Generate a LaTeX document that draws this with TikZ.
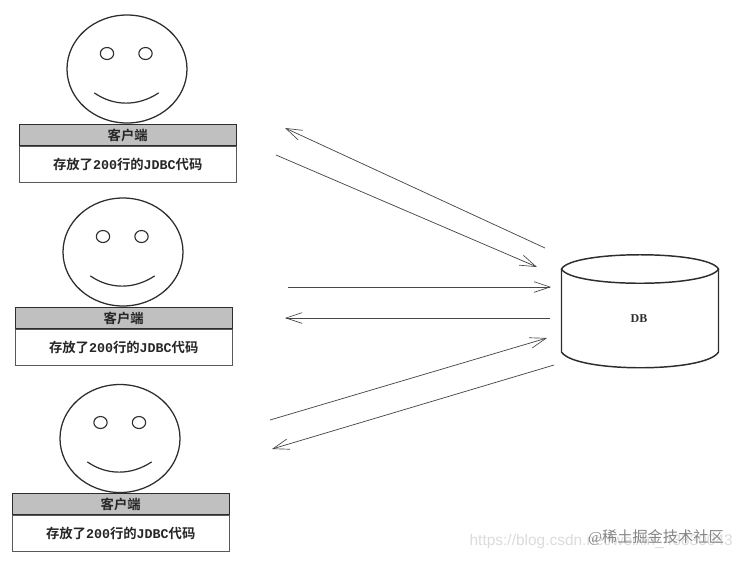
\documentclass[tikz,border=0pt]{standalone}
\usepackage{fontspec}
\setmainfont{Liberation Serif}
\setmonofont{Liberation Mono}
\setsansfont{Liberation Sans}
\newfontfamily\cjk{Noto Sans CJK SC}[BoldFont={* Bold}]
\usetikzlibrary{arrows.meta,shapes.geometric}
\definecolor{hdr}{RGB}{192,192,192}
\definecolor{ink}{RGB}{45,45,45}
\tikzset{
  x=0.75pt,y=-0.75pt,
  face/.style={ellipse,draw=ink,line width=0.95pt,minimum width=90pt,minimum height=81pt,inner sep=0pt,fill=white},
  eye/.style={ellipse,draw=ink,line width=0.85pt,minimum width=10pt,minimum height=9pt,inner sep=0pt},
  smile/.style={draw=ink,line width=0.9pt,line cap=round},
  hdrbox/.style={draw=ink,fill=hdr,line width=0.8pt,minimum width=163pt,minimum height=16.3pt,inner sep=0pt,text=black!85,font=\cjk\bfseries\fontsize{10}{11}\selectfont},
  bodybox/.style={draw=black!65,fill=white,line width=0.8pt,minimum width=163pt,minimum height=26.7pt,inner sep=0pt,text=black!85,font=\ttfamily\bfseries\fontsize{10}{11}\selectfont},
  link/.style={draw=black!72,line width=0.55pt,-{Straight Barb[length=12pt,width=8pt,line width=0.5pt]}},
  dbtext/.style={font=\bfseries\fontsize{9}{10}\selectfont,text=ink},
  wm/.style={text=black!48,font=\fontsize{11.4}{12}\selectfont,inner sep=0pt,anchor=east},
  wmb/.style={text=black!14,font=\sffamily\fontsize{11.6}{12}\selectfont,inner sep=0pt,anchor=east}
}
\newcommand{\rowtext}{{\cjk 存放了}200{\cjk 行的}JDBC{\cjk 代码}}
\begin{document}
\begin{tikzpicture}
\useasboundingbox (0,0) rectangle (741,562);
% first client
\node[face] (f1) at (127,69) {};
\node[eye] (e1a) at (107,53.5) {};
\node[eye] (e1b) at (145.5,53.5) {};
\draw[smile] (94.5,93) .. controls (114,106.5) and (138,106.5) .. (158.5,93);
\node[hdrbox] (h1) at (127.7,135) {\cjk 客户端};
\node[bodybox,anchor=north] (b1) at (h1.south) {\rowtext};
% second client
\node[face] (f2) at (123,252) {};
\node[eye] (e2a) at (103,236.5) {};
\node[eye] (e2b) at (141.5,236.5) {};
\draw[smile] (90.5,276) .. controls (110,289.5) and (134,289.5) .. (154.5,276);
\node[hdrbox] (h2) at (123.7,318) {\cjk 客户端};
\node[bodybox,anchor=north] (b2) at (h2.south) {\rowtext};
% third client
\node[face] (f3) at (120,438.5) {};
\node[eye] (e3a) at (100.5,422.5) {};
\node[eye] (e3b) at (139,422.5) {};
\draw[smile] (87.5,462) .. controls (107,475.5) and (131,475.5) .. (151.5,462);
\node[hdrbox] (h3) at (120.7,504) {\cjk 客户端};
\node[bodybox,anchor=north] (b3) at (h3.south) {\rowtext};
% database
\draw[draw=ink,line width=1.1pt,fill=white] (561.5,269) -- (561.5,352)
  .. controls (575,373) and (706,373) .. (718.5,352) -- (718.5,269);
\draw[draw=ink,line width=1.1pt] (561.5,269) .. controls (572,288) and (708,288) .. (718.5,269)
  .. controls (708,250) and (572,250) .. (561.5,269) -- cycle;
\node[dbtext] (db) at (639,319) {DB};
% connector ends
\coordinate (a1) at (545,248); \coordinate (a2) at (285,128);
\coordinate (b1s) at (276,155); \coordinate (b2e) at (537,267);
\coordinate (c1) at (288,287); \coordinate (c2) at (551,287);
\coordinate (d1) at (550,318); \coordinate (d2) at (285,318);
\coordinate (g1) at (270,420); \coordinate (g2) at (547,338);
\coordinate (i1) at (554,365); \coordinate (i2) at (272,449);
\draw[link] (a1) -- (a2);
\draw[link] (b1s) -- (b2e);
\draw[link] (c1) -- (c2);
\draw[link] (d1) -- (d2);
\draw[link] (g1) -- (g2);
\draw[link] (i1) -- (i2);
% watermarks
\node[wmb] (w2) at (733,541) {https://blog.csdn.net/weixin\_43830043};
\node[wm] (w1) at (724,537) {@{\cjk 稀土掘金技术社区}};
\end{tikzpicture}
\end{document}
